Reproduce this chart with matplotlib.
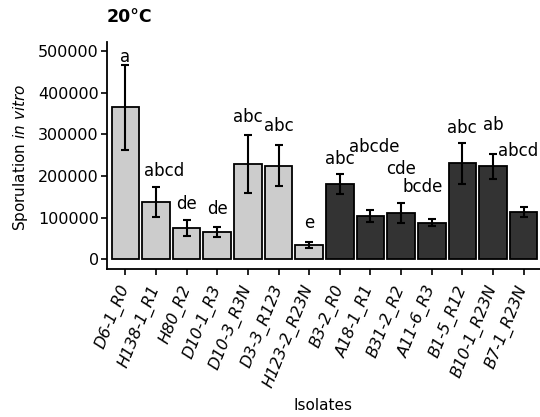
import matplotlib
matplotlib.use("Agg")
import matplotlib.pyplot as plt
import matplotlib.transforms as mtransforms
import numpy as np

isolates = ["D6-1_R0", "H138-1_R1", "H80_R2", "D10-1_R3", "D10-3_R3N", "D3-3_R123",
            "H123-2_R23N", "B3-2_R0", "A18-1_R1", "B31-2_R2", "A11-6_R3", "B1-5_R12",
            "B10-1_R23N", "B7-1_R23N"]
means = [365000, 138000, 76000, 66000, 229000, 225000, 34000,
         180000, 104000, 112000, 88000, 231000, 224000, 113000]
errors = [102000, 36000, 19000, 12000, 70000, 49000, 8000,
          24000, 14000, 24000, 8500, 49000, 30000, 12500]
groups = ["light"] * 7 + ["dark"] * 7
letters = ["a", "abcd", "de", "de", "abc", "abc", "e",
           "abc", "abcde", "cde", "bcde", "abc", "ab", "abcd"]
letter_y = [487000, 213000, 132000, 120000, 343000, 320000, 88000,
            240000, 271000, 217000, 174500, 315000, 323000, 261000]
letter_dx = [0, 0.27, 0, 0, 0, 0, 0, 0, 0.13, 0, -0.28, 0, 0, -0.17]

colors = {"light": "#cccccc", "dark": "#333333"}

fig = plt.figure(figsize=(5.4, 4.17), dpi=100)
ax = fig.add_axes([107 / 540, 1 - 269 / 417, 435 / 540, (269 - 41.7) / 417])

x = np.arange(len(isolates))
ax.bar(x, means, width=0.9, color=[colors[g] for g in groups],
       edgecolor="black", linewidth=1.3, zorder=2)
ax.errorbar(x, means, yerr=errors, fmt="none", ecolor="black",
            elinewidth=1.5, capsize=3, capthick=1.5, zorder=3)

for xi, lab, ly, dx in zip(x, letters, letter_y, letter_dx):
    ax.text(xi + dx, ly, lab, ha="center", va="center", fontsize=12, color="black")

ax.set_xlim(-0.6, 13.6)
ax.set_ylim(-23300, 523000)
ax.set_yticks([0, 100000, 200000, 300000, 400000, 500000])
ax.set_yticklabels(["0", "100000", "200000", "300000", "400000", "500000"])
ax.set_xticks(x)
ax.set_xticklabels(isolates, rotation=68, ha="right", va="center",
                   rotation_mode="anchor", fontstyle="italic")

# nudge rotated labels to the right like the original
shift = mtransforms.ScaledTranslation(12 / 72, 0, fig.dpi_scale_trans)
for lbl in ax.get_xticklabels():
    lbl.set_transform(lbl.get_transform() + shift)

for side in ["top", "right"]:
    ax.spines[side].set_visible(False)
for side in ["left", "bottom"]:
    ax.spines[side].set_linewidth(1.3)
ax.tick_params(axis="both", labelsize=11.5, colors="black", width=1.2, length=4)
ax.tick_params(axis="y", pad=2)
ax.tick_params(axis="x", pad=8)

fig.text(107 / 540, 1 - 17 / 417, "20°C", fontsize=12.5, fontweight="bold", va="center")
fig.text(21 / 540, 1 - 157 / 417, "Sporulation $\\it{in\\ vitro}$", rotation=90,
         ha="center", va="center", fontsize=11)
fig.text(323 / 540, 1 - 405 / 417, "Isolates", ha="center", va="center", fontsize=11)

fig.savefig("out.png", dpi=100)
